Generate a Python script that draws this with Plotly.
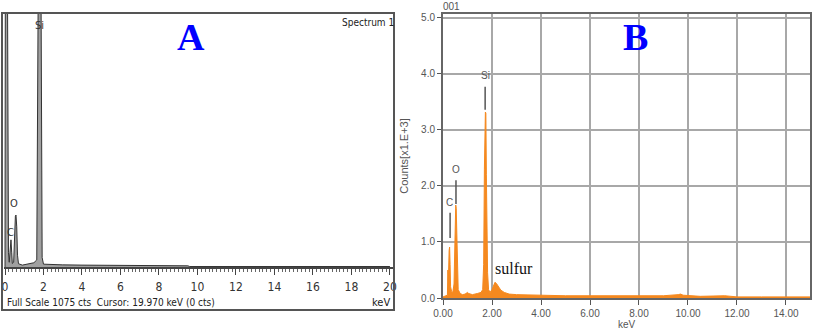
import plotly.graph_objects as go

# panel A: EDS spectrum (counts)
a_kev = [0.00, 0.01, 0.02, 0.12, 0.15, 0.18, 0.22, 0.27, 0.31, 0.35, 0.38, 0.45, 0.50, 0.54,
         0.57, 0.61, 0.65, 0.70, 0.90, 1.20, 1.50, 1.65, 1.70, 1.74, 1.86, 1.89, 1.93, 2.00,
         2.40, 3.00, 4.00, 5.00, 6.00, 7.00, 8.00, 9.50, 9.60, 12.0, 16.0, 20.0]
a_counts = [0, 600, 1400, 1400, 300, 60, 20, 105, 115, 60, 15, 20, 150, 215,
            220, 170, 50, 14, 8, 12, 18, 30, 600, 1400, 1400, 300, 40, 12,
            10, 9, 8, 8, 7, 7, 6, 5, 2, 2, 2, 2]

# panel B: EDS spectrum (counts x 1000)
b_kev = [0.00, 0.10, 0.18, 0.20, 0.22, 0.25, 0.27, 0.29, 0.31, 0.35, 0.40, 0.45, 0.48,
         0.50, 0.52, 0.54, 0.56, 0.58, 0.62, 0.70, 0.80, 0.90, 1.00, 1.05, 1.20, 1.40,
         1.55, 1.62, 1.66, 1.69, 1.71, 1.73, 1.75, 1.77, 1.79, 1.82, 1.86, 1.92, 2.00,
         2.06, 2.12, 2.18, 2.26, 2.36, 2.50, 2.70, 3.00, 3.50, 4.00, 5.00, 6.00, 7.00,
         8.00, 9.00, 9.60, 9.70, 9.80, 10.5, 11.5, 12.0, 13.0, 14.0, 15.0]
b_counts = [0.02, 0.03, 0.05, 0.50, 0.30, 0.85, 0.91, 0.60, 0.20, 0.12, 0.10, 0.25, 1.05,
            1.20, 1.66, 1.60, 1.10, 0.40, 0.15, 0.08, 0.06, 0.07, 0.10, 0.08, 0.06, 0.08,
            0.10, 0.15, 0.60, 2.30, 2.65, 3.32, 3.30, 2.20, 1.30, 0.45, 0.15, 0.10, 0.15,
            0.22, 0.28, 0.26, 0.20, 0.14, 0.10, 0.07, 0.06, 0.05, 0.05, 0.04, 0.04, 0.04,
            0.04, 0.04, 0.06, 0.07, 0.05, 0.03, 0.04, 0.02, 0.02, 0.02, 0.02]

a_ticks = [0, 2, 4, 6, 8, 10, 12, 14, 16, 18, 20]
b_xticks = [0, 2, 4, 6, 8, 10, 12, 14]
b_yticks = [0, 1, 2, 3, 4, 5]

W, H = 813, 332
narrow = "Liberation Sans Narrow, DejaVu Sans Condensed, Arial Narrow, Liberation Sans, Arial"
sans = "Liberation Sans, Arial"
serif = "Liberation Serif, Times New Roman, serif"
orange = "#f5891f"


def px(x):
    return x / W


def py(y):
    return 1 - y / H


fig = go.Figure()

fig.add_trace(go.Scatter(
    x=a_kev, y=a_counts, mode="lines", line=dict(color="#333333", width=1),
    fill="tozeroy", fillcolor="#a0a0a0", xaxis="x", yaxis="y", showlegend=False
))

fig.add_trace(go.Scatter(
    x=b_kev, y=b_counts, mode="lines", line=dict(color=orange, width=1),
    fill="tozeroy", fillcolor=orange, xaxis="x2", yaxis="y2", showlegend=False
))

fig.update_layout(
    width=W, height=H,
    margin=dict(l=0, r=0, t=0, b=0, autoexpand=False),
    paper_bgcolor="white", plot_bgcolor="white",
    font=dict(family=narrow, color="#333333"),
    xaxis=dict(
        domain=[px(4), px(393)], range=[-0.052, 20.16], automargin=False,
        tickvals=a_ticks, ticks="outside", ticklen=6, tickcolor="#444",
        tickfont=dict(size=12, family=narrow, color="#333"), ticklabelstandoff=2,
        minor=dict(dtick=0.2, ticks="outside", ticklen=3, tickcolor="#666"),
        showgrid=False, zeroline=False, showline=True, linecolor="#444", linewidth=1.5,
    ),
    yaxis=dict(
        domain=[py(267), py(13)], range=[0, 1075], automargin=False,
        showticklabels=False, showgrid=False, zeroline=False, showline=False,
    ),
    xaxis2=dict(
        domain=[px(443), px(810)], range=[0, 14.98], anchor="y2", automargin=False,
        tickvals=b_xticks, tickformat=".2f", ticks="outside", ticklen=5, tickcolor="#555",
        tickfont=dict(size=10, family=sans, color="#555"),
        title=dict(text="keV", font=dict(size=10, family=sans, color="#555"), standoff=2),
        showgrid=True, gridcolor="#a8a8a8", gridwidth=1.5,
        zeroline=False, showline=True, mirror=True, linecolor="#666", linewidth=2,
    ),
    yaxis2=dict(
        domain=[py(298), py(14)], range=[0, 5.07], anchor="x2", automargin=False,
        tickvals=b_yticks, tickformat=".1f", ticks="outside", ticklen=4, tickcolor="#555",
        tickfont=dict(size=10, family=sans, color="#555"),
        title=dict(text="Counts[x1.E+3]", font=dict(size=11, family=sans, color="#555"), standoff=10),
        showgrid=True, gridcolor="#a8a8a8", gridwidth=1.5,
        zeroline=False, showline=True, mirror=True, linecolor="#666", linewidth=2,
    ),
)

# frame of panel A
fig.add_shape(type="rect", xref="paper", yref="paper",
              x0=px(2), x1=px(394), y0=py(310), y1=py(13),
              line=dict(color="#555", width=2))

# peak marker lines in panel B
for x0, y0, y1 in [(1.72, 3.36, 3.77), (0.53, 1.68, 2.10), (0.29, 1.07, 1.52)]:
    fig.add_shape(type="line", xref="x2", yref="y2", x0=x0, x1=x0, y0=y0, y1=y1,
                  line=dict(color="#555", width=1.5))

ann = [
    dict(x=1.77, y=1024, xref="x", yref="y", text="Si", font=dict(size=11, color="#333")),
    dict(x=0.47, y=267, xref="x", yref="y", text="O", font=dict(size=11, color="#333")),
    dict(x=0.26, y=144, xref="x", yref="y", text="C", font=dict(size=11, color="#333")),
    dict(x=px(396), y=py(23), text="Spectrum 1", xanchor="right", font=dict(size=10, color="#222")),
    dict(x=px(5), y=py(302), text="Full Scale 1075 cts  Cursor: 19.970 keV (0 cts)",
         xanchor="left", font=dict(size=10, color="#222")),
    dict(x=px(392), y=py(302), text="keV", xanchor="right", font=dict(size=11, color="#222")),
    dict(x=px(191), y=py(37), text="<b>A</b>", font=dict(size=38, family=serif, color="#0000ff")),
    dict(x=px(635), y=py(37), text="<b>B</b>", font=dict(size=38, family=serif, color="#0000ff")),
    dict(x=1.72, y=3.98, xref="x2", yref="y2", text="Si", font=dict(size=10, family=sans, color="#555")),
    dict(x=0.55, y=2.29, xref="x2", yref="y2", text="O", font=dict(size=10, family=sans, color="#555")),
    dict(x=0.27, y=1.71, xref="x2", yref="y2", text="C", font=dict(size=10, family=sans, color="#555")),
    dict(x=2.05, y=0.53, xref="x2", yref="y2", text="sulfur", xanchor="left",
         font=dict(size=16, family=serif, color="#111")),
    dict(x=px(451), y=py(6), text="001", font=dict(size=10, family=sans, color="#555")),
]
for a in ann:
    a.setdefault("xref", "paper")
    a.setdefault("yref", "paper")
    a.setdefault("xanchor", "center")
    a.setdefault("yanchor", "middle")
    fig.add_annotation(showarrow=False, **a)

# the page body has a default 8px margin; drop it so the figure sits at the top-left corner
fig.write_html("out.html", config={"displayModeBar": False},
               post_script="document.body.style.margin='0';")
